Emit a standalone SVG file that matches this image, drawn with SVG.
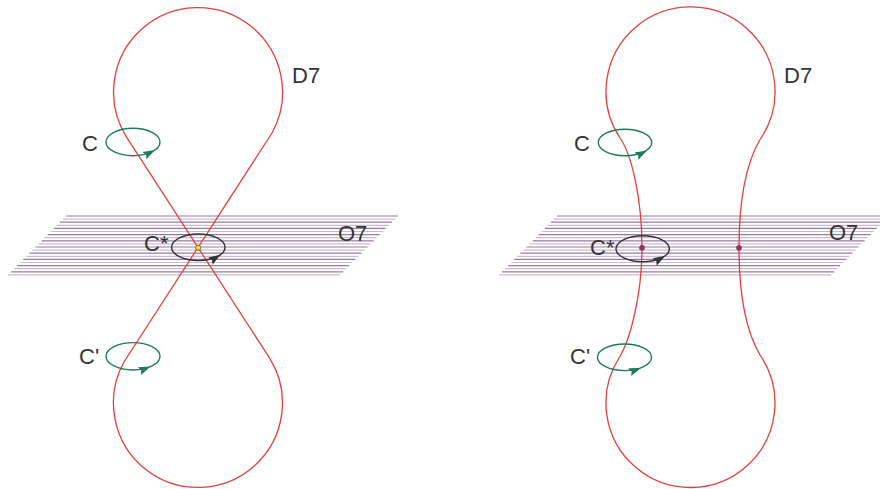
<svg xmlns="http://www.w3.org/2000/svg" xmlns:xlink="http://www.w3.org/1999/xlink" width="880" height="489" viewBox="0 0 880 489">
<style>
.pd{stroke:#967aa3;stroke-width:1.2}
.pl{stroke:#cbbbd1;stroke-width:1.2}
.brane{fill:none;stroke:#e2403a;stroke-width:1.3}
.loop{fill:none;stroke:#1d7a5c;stroke-width:1.4}
.loopk{fill:none;stroke:#333;stroke-width:1.4}
.lbl{font-family:"Liberation Sans",Arial,sans-serif;font-size:22px;fill:#333}
</style>
<defs>
<path id="ah" d="M0,0 L-12,-4.2 L-10,0 L-12,4.2 Z"/>
<g id="plane">
<line class="pd" x1="66" y1="216" x2="398" y2="216"/>
<line class="pl" x1="62.95" y1="219.1" x2="394.95" y2="219.1"/>
<line class="pd" x1="59.9" y1="222.2" x2="391.9" y2="222.2"/>
<line class="pl" x1="56.85" y1="225.3" x2="388.85" y2="225.3"/>
<line class="pd" x1="53.8" y1="228.4" x2="385.8" y2="228.4"/>
<line class="pl" x1="50.75" y1="231.5" x2="382.75" y2="231.5"/>
<line class="pd" x1="47.7" y1="234.6" x2="379.7" y2="234.6"/>
<line class="pl" x1="44.65" y1="237.7" x2="376.65" y2="237.7"/>
<line class="pd" x1="41.6" y1="240.8" x2="373.6" y2="240.8"/>
<line class="pl" x1="38.55" y1="243.9" x2="370.55" y2="243.9"/>
<line class="pd" x1="35.5" y1="247" x2="367.5" y2="247"/>
<line class="pl" x1="32.45" y1="250.1" x2="364.45" y2="250.1"/>
<line class="pd" x1="29.4" y1="253.2" x2="361.4" y2="253.2"/>
<line class="pl" x1="26.35" y1="256.3" x2="358.35" y2="256.3"/>
<line class="pd" x1="23.3" y1="259.4" x2="355.3" y2="259.4"/>
<line class="pl" x1="20.25" y1="262.5" x2="352.25" y2="262.5"/>
<line class="pd" x1="17.2" y1="265.6" x2="349.2" y2="265.6"/>
<line class="pl" x1="14.15" y1="268.7" x2="346.15" y2="268.7"/>
<line class="pd" x1="11.1" y1="271.8" x2="343.1" y2="271.8"/>
<line class="pl" x1="8.05" y1="274.9" x2="340.05" y2="274.9"/>
</g>
</defs>

<g id="o7-left"><use xlink:href="#plane"/></g>
<g id="o7-right"><use xlink:href="#plane" transform="translate(491,0)"/></g>

<g id="connectors">
<path id="d7-left" class="brane" d="M127.05,137.92 L268.95,357.08 A84.5,84.5 0 1 1 124,362 L272,133 A84.5,84.5 0 1 0 127.05,137.92 Z"/>
<path id="d7-right" class="brane" d="M620,138 A84.5,84.5 0 1 1 759.7,140 C750,157 739,190 739,247.5 C739,305 750,338 760,355 A84.5,84.5 0 1 1 619.6,357 C630,340 642,295 642,247.5 C642,200 632,155 620,138 Z"/>
</g>

<g id="loop-C-left">
<ellipse class="loop" cx="133" cy="142" rx="27" ry="13.7"/>
<use xlink:href="#ah" fill="#1d7a5c" transform="translate(155,150) rotate(-28)"/>
</g>
<g id="loop-Cp-left">
<ellipse class="loop" cx="133" cy="356.3" rx="27" ry="13.7"/>
<use xlink:href="#ah" fill="#1d7a5c" transform="translate(150.5,366.6) rotate(-22)"/>
</g>
<g id="loop-Cs-left">
<ellipse class="loopk" cx="198.3" cy="247.3" rx="26.7" ry="13.3"/>
<use xlink:href="#ah" fill="#333" transform="translate(220.5,254.8) rotate(-32)"/>
</g>
<g id="loop-C-right">
<ellipse class="loop" cx="625" cy="142.5" rx="26.7" ry="13.2"/>
<use xlink:href="#ah" fill="#1d7a5c" transform="translate(647,150.5) rotate(-28)"/>
</g>
<g id="loop-Cp-right">
<ellipse class="loop" cx="624.5" cy="357.3" rx="27" ry="13.3"/>
<use xlink:href="#ah" fill="#1d7a5c" transform="translate(641,368) rotate(-20)"/>
</g>
<g id="loop-Cs-right">
<ellipse class="loopk" cx="642.7" cy="248.7" rx="26.7" ry="13"/>
<use xlink:href="#ah" fill="#333" transform="translate(665,256) rotate(-30)"/>
</g>

<g id="points">
<circle cx="198.2" cy="247.8" r="2.6" fill="#f2e600" stroke="#555" stroke-width="0.8"/>
<circle cx="642" cy="247.8" r="2.6" fill="#b0207a" stroke="#552" stroke-width="0.6"/>
<circle cx="739" cy="247.8" r="2.6" fill="#b0207a" stroke="#552" stroke-width="0.6"/>
</g>

<g id="labels">
<text class="lbl" x="82" y="151">C</text>
<text class="lbl" x="292" y="83">D7</text>
<text class="lbl" x="144" y="251">C*</text>
<text class="lbl" x="338" y="241">O7</text>
<text class="lbl" x="79" y="364">C'</text>
<text class="lbl" x="574" y="151">C</text>
<text class="lbl" x="784" y="83">D7</text>
<text class="lbl" x="590" y="255">C*</text>
<text class="lbl" x="829" y="240">O7</text>
<text class="lbl" x="570" y="364">C'</text>
</g>
</svg>
